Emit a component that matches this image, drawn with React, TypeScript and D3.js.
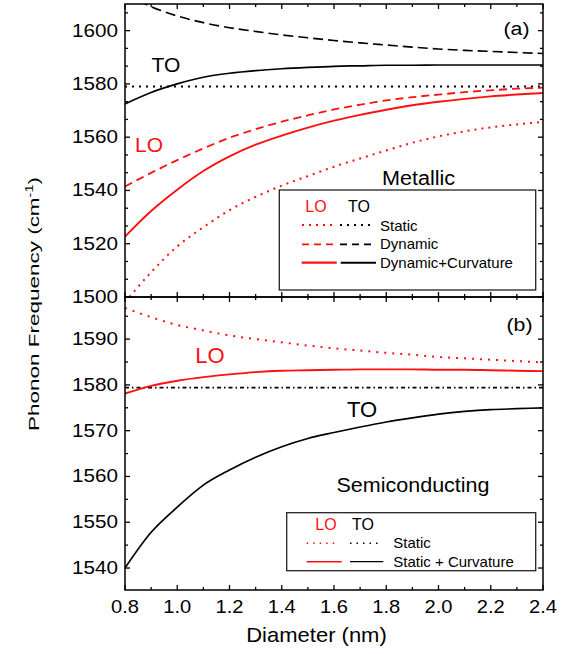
import React from "react";
import * as d3 from "d3";

// ---------- data ----------
const diameters = [0.8, 0.9, 1.0, 1.1, 1.2, 1.3, 1.4, 1.5, 1.6, 1.7, 1.8, 1.9, 2.0, 2.1, 2.2, 2.3, 2.4];

// (a) Metallic
const metLOStatic = [1498.0, 1509.3, 1519.0, 1526.2, 1532.6, 1537.6, 1541.8, 1545.4, 1548.9, 1552.0, 1555.0, 1557.9, 1560.3, 1562.2, 1563.7, 1564.8, 1565.7];
const metLODynamic = [1541.5, 1546.6, 1551.4, 1555.8, 1559.8, 1563.0, 1565.8, 1568.2, 1570.4, 1572.2, 1573.8, 1575.0, 1576.0, 1576.9, 1577.6, 1578.2, 1578.6];
const metLOCurv = [1522.7, 1532.3, 1540.3, 1547.3, 1552.8, 1557.2, 1560.6, 1563.6, 1566.2, 1568.4, 1570.3, 1572.0, 1573.3, 1574.4, 1575.3, 1576.0, 1576.6];
const metTOStaticD = [0.8, 2.4];
const metTOStatic = [1579.0, 1579.0];
const metTODynamic = [1614.0, 1609.0, 1605.5, 1603.0, 1601.1, 1599.7, 1598.4, 1597.3, 1596.3, 1595.4, 1594.6, 1593.8, 1593.1, 1592.6, 1592.2, 1591.8, 1591.4];
const metTOCurv = [1572.5, 1576.8, 1580.0, 1582.5, 1584.0, 1585.0, 1585.7, 1586.2, 1586.6, 1586.8, 1587.0, 1587.0, 1587.1, 1587.1, 1587.1, 1587.1, 1587.1];

// (b) Semiconducting
const semLOStatic = [1596.8, 1594.8, 1593.1, 1591.9, 1590.8, 1590.0, 1589.3, 1588.6, 1588.0, 1587.5, 1587.0, 1586.6, 1586.1, 1585.8, 1585.5, 1585.2, 1584.9];
const semLOCurv = [1578.1, 1579.8, 1580.9, 1581.7, 1582.3, 1582.8, 1583.1, 1583.2, 1583.3, 1583.4, 1583.4, 1583.4, 1583.3, 1583.3, 1583.2, 1583.1, 1583.0];
const semTOStaticD = [0.8, 2.4];
const semTOStatic = [1579.4, 1579.4];
const semTOCurv = [1540.0, 1547.8, 1553.3, 1558.1, 1561.4, 1564.2, 1566.5, 1568.3, 1569.6, 1570.8, 1571.9, 1572.8, 1573.6, 1574.2, 1574.6, 1574.8, 1575.0];

// ticks
const xMajorTicks = [0.8, 1.0, 1.2, 1.4, 1.6, 1.8, 2.0, 2.2, 2.4];
const xTickLabels = ["0.8", "1.0", "1.2", "1.4", "1.6", "1.8", "2.0", "2.2", "2.4"];
const yMajorA = [1500, 1520, 1540, 1560, 1580, 1600];
const yMajorB = [1540, 1550, 1560, 1570, 1580, 1590];

// ---------- layout ----------
const L = 125, R = 543, TOPA = 4, MID = 297, BOT = 590;
const RED = "#ff1010";
const FONT = "Liberation Sans, Arial, Helvetica, sans-serif";

const x = d3.scaleLinear().domain([0.8, 2.4]).range([L, R]);
const yA = d3.scaleLinear().domain([1500, 1610]).range([MID, TOPA]);
const yB = d3.scaleLinear().domain([1535.2, 1599.2]).range([BOT, MID]);

const xMinor = d3.range(0.8, 2.4001, 0.1).map((v) => +v.toFixed(2));
const yMinorA = d3.range(0, 17).map((k) => 1500 + (k * 20) / 3).filter((v) => v <= 1610);
const yMinorB = d3.range(1535, 1600, 5);

function T({ x, y, size, sx = 1, anchor = "middle", fill = "#000", children }: any) {
  return (
    <text
      transform={`translate(${x},${y}) scale(${sx},1)`}
      fontSize={size}
      textAnchor={anchor}
      fill={fill}
      fontFamily={FONT}
    >
      {children}
    </text>
  );
}

function path(xs: number[], ys: number[], yScale: any) {
  const pts = xs.map((d, i) => [d, ys[i]] as [number, number]);
  return d3
    .line<[number, number]>()
    .x((p) => x(p[0]))
    .y((p) => yScale(p[1]))
    .curve(d3.curveMonotoneX)(pts) as string;
}

function Frame({ top, bottom, yScale, majors, minors, labels }: any) {
  const els: any[] = [];
  xMinor.forEach((v: number, i: number) => {
    const isMajor = xMajorTicks.some((m) => Math.abs(m - v) < 1e-6);
    const len = isMajor ? 5 : 3;
    els.push(<line key={"xb" + i} x1={x(v)} x2={x(v)} y1={bottom} y2={bottom - len} stroke="#000" strokeWidth={1.3} />);
    els.push(<line key={"xt" + i} x1={x(v)} x2={x(v)} y1={top} y2={top + len} stroke="#000" strokeWidth={1.3} />);
  });
  minors.forEach((v: number, i: number) => {
    const isMajor = majors.some((m: number) => Math.abs(m - v) < 1e-6);
    if (isMajor) return;
    const yy = yScale(v);
    if (yy < top - 0.5 || yy > bottom + 0.5) return;
    els.push(<line key={"ml" + i} x1={L} x2={L + 3} y1={yy} y2={yy} stroke="#000" strokeWidth={1.3} />);
    els.push(<line key={"mr" + i} x1={R} x2={R - 3} y1={yy} y2={yy} stroke="#000" strokeWidth={1.3} />);
  });
  majors.forEach((v: number, i: number) => {
    const yy = yScale(v);
    els.push(<line key={"Ml" + i} x1={L} x2={L + 5} y1={yy} y2={yy} stroke="#000" strokeWidth={1.3} />);
    els.push(<line key={"Mr" + i} x1={R} x2={R - 5} y1={yy} y2={yy} stroke="#000" strokeWidth={1.3} />);
    if (labels)
      els.push(
        <T key={"Ll" + i} x={118} y={yy + 6} size={17.5} sx={1.18} anchor="end">
          {String(v)}
        </T>
      );
  });
  return (
    <g>
      <rect x={L} y={top} width={R - L} height={bottom - top} fill="none" stroke="#000" strokeWidth={1.5} />
      {els}
    </g>
  );
}

function LegendLine({ x1, x2, y, color, dash, w = 1.8 }: any) {
  return <line x1={x1} x2={x2} y1={y} y2={y} stroke={color} strokeWidth={w} strokeDasharray={dash} />;
}

export default function App() {
  const dot = "2,5";
  const dashK = "10,5";
  const dashR = "8,5";
  return (
    <svg width={572} height={654} style={{ position: "absolute", left: 0, top: 0, background: "#fff" }}>
      <defs>
        <clipPath id="clipA">
          <rect x={L} y={TOPA} width={R - L} height={MID - TOPA} />
        </clipPath>
        <clipPath id="clipB">
          <rect x={L} y={MID} width={R - L} height={BOT - MID} />
        </clipPath>
      </defs>
      <rect x={0} y={0} width={572} height={654} fill="#fff" />

      {/* Panel (a) curves */}
      <g clipPath="url(#clipA)" fill="none">
        <path d={path(metTOStaticD, metTOStatic, yA)} stroke="#000" strokeWidth={2} strokeDasharray={dot} />
        <path d={path(diameters, metTODynamic, yA)} stroke="#000" strokeWidth={1.6} strokeDasharray={dashK} />
        <path d={path(diameters, metTOCurv, yA)} stroke="#000" strokeWidth={1.7} />
        <path d={path(diameters, metLOStatic, yA)} stroke={RED} strokeWidth={2} strokeDasharray={dot} />
        <path d={path(diameters, metLODynamic, yA)} stroke={RED} strokeWidth={1.8} strokeDasharray={dashR} />
        <path d={path(diameters, metLOCurv, yA)} stroke={RED} strokeWidth={1.9} />
      </g>

      {/* Panel (b) curves */}
      <g clipPath="url(#clipB)" fill="none">
        <path d={path(semTOStaticD, semTOStatic, yB)} stroke="#000" strokeWidth={1.8} strokeDasharray="4,3,1.5,3" />
        <path d={path(diameters, semLOStatic, yB)} stroke={RED} strokeWidth={2} strokeDasharray="2,6" />
        <path d={path(diameters, semLOCurv, yB)} stroke={RED} strokeWidth={1.9} />
        <path d={path(diameters, semTOCurv, yB)} stroke="#000" strokeWidth={1.7} />
      </g>

      <Frame top={TOPA} bottom={MID} yScale={yA} majors={yMajorA} minors={yMinorA} labels={true} />
      <Frame top={MID} bottom={BOT} yScale={yB} majors={yMajorB} minors={yMinorB} labels={true} />

      {/* x tick labels */}
      {xMajorTicks.map((v, i) => (
        <T key={"xl" + i} x={x(v)} y={613} size={17.5} sx={1.15}>
          {xTickLabels[i]}
        </T>
      ))}
      <T x={316.5} y={642} size={20} sx={1.1}>
        Diameter (nm)
      </T>

      {/* y label */}
      <text
        transform="translate(39,304) rotate(-90) scale(1.45,1)"
        fontSize={15.5}
        textAnchor="middle"
        fontFamily={FONT}
        fill="#000"
      >
        Phonon Frequency (cm
        <tspan dy={-6} fontSize={10}>
          -1
        </tspan>
        <tspan dy={6}>)</tspan>
      </text>

      {/* panel (a) annotations */}
      <T x={516.5} y={34.5} size={19} sx={1.12}>(a)</T>
      <T x={166} y={71.5} size={21}>TO</T>
      <T x={149} y={152} size={21} fill={RED}>LO</T>
      <T x={418.5} y={185} size={21} sx={1.03}>Metallic</T>

      {/* legend (a) */}
      <rect x={279.3} y={190} width={256.4} height={100} fill="#fff" stroke="#222" strokeWidth={1.3} />
      <T x={316} y={212} size={16} fill={RED}>LO</T>
      <T x={359} y={212} size={16}>TO</T>
      <LegendLine x1={302} x2={334} y={225} color={RED} dash={dot} w={2} />
      <LegendLine x1={340} x2={371} y={225} color="#000" dash={dot} w={2} />
      <T x={380} y={230.7} size={15} anchor="start">Static</T>
      <LegendLine x1={302} x2={334} y={244.3} color={RED} dash="7,5" />
      <LegendLine x1={340} x2={371} y={244.3} color="#000" dash="7,5" />
      <T x={380} y={249.3} size={15} anchor="start">Dynamic</T>
      <LegendLine x1={301.7} x2={336.7} y={262.7} color={RED} w={2.2} />
      <LegendLine x1={340.7} x2={376} y={262.7} color="#000" w={2} />
      <T x={380} y={268} size={15} anchor="start">Dynamic+Curvature</T>

      {/* panel (b) annotations */}
      <T x={519.5} y={331} size={19} sx={1.12}>(b)</T>
      <T x={210} y={363} size={22} fill={RED}>LO</T>
      <T x={362} y={416.5} size={22}>TO</T>
      <T x={413} y={492} size={20.5} sx={1.05}>Semiconducting</T>

      {/* legend (b) */}
      <rect x={286.7} y={512.7} width={249} height={58} fill="#fff" stroke="#222" strokeWidth={1.3} />
      <T x={326} y={530} size={16} fill={RED}>LO</T>
      <T x={363} y={530} size={16}>TO</T>
      <LegendLine x1={306.7} x2={337} y={543.3} color={RED} dash="1.5,5" w={1.6} />
      <LegendLine x1={350} x2={381} y={543.3} color="#000" dash="1.5,5" w={1.6} />
      <T x={393.3} y={548.3} size={15} anchor="start">Static</T>
      <LegendLine x1={306.7} x2={341.7} y={561.7} color={RED} w={1.5} />
      <LegendLine x1={350} x2={383.3} y={561.7} color="#000" w={1.3} />
      <T x={393.3} y={567.3} size={15} anchor="start">Static + Curvature</T>
    </svg>
  );
}
